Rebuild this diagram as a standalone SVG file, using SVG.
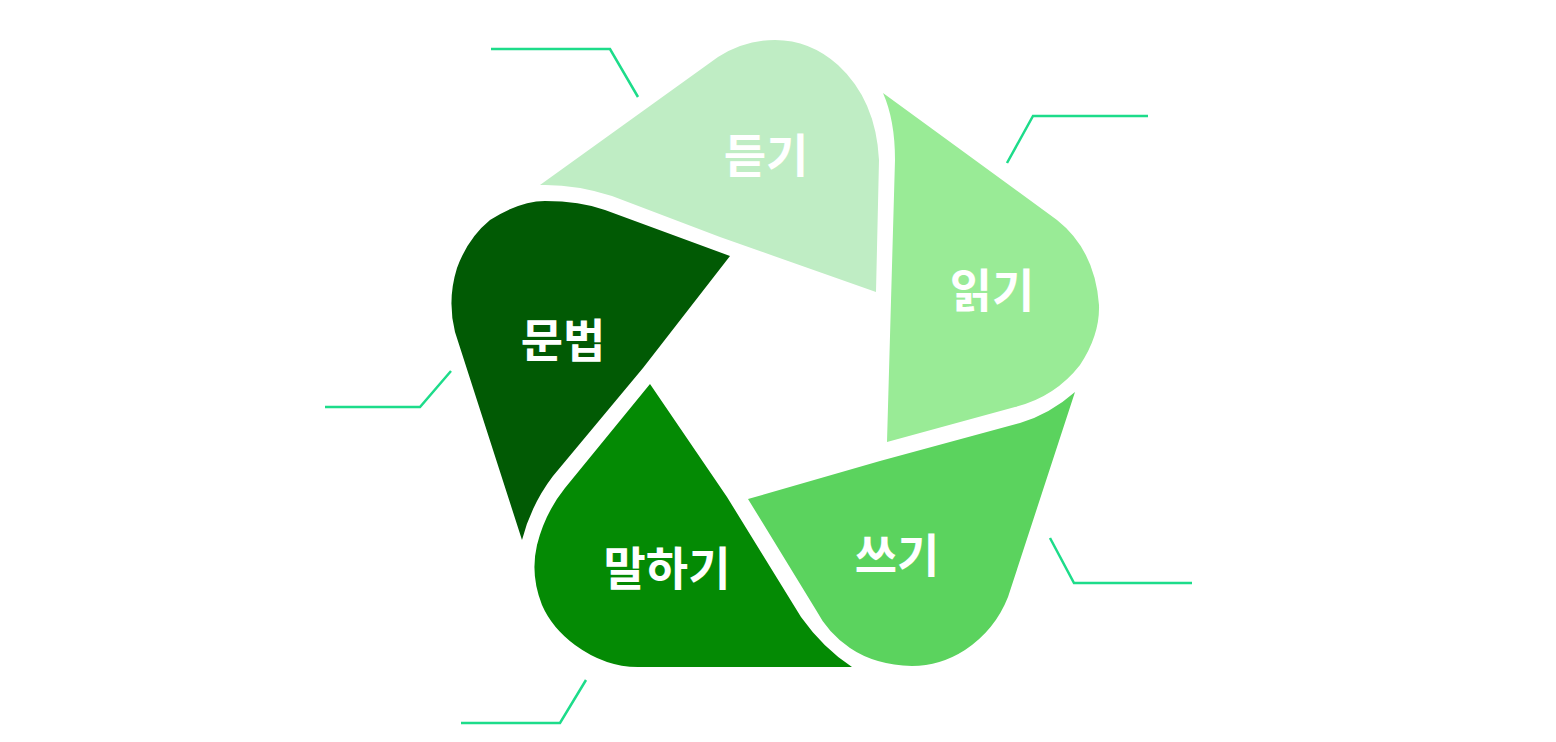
<svg xmlns="http://www.w3.org/2000/svg" width="1556" height="742" viewBox="0 0 1556 742">
<style>
.t{font-family:"Noto Sans CJK KR","Noto Sans",sans-serif;font-weight:bold;font-size:46px;fill:#fff;text-anchor:middle;dominant-baseline:central}
.l{fill:none;stroke:#1ddc8a;stroke-width:2.5}
</style>
<rect width="1556" height="742" fill="#fff"/>
<g id="n1"><path d="M540,185 L718,57 Q745,40 775,40 Q810,40 838,65 Q876,100 879,160 L876,292 L720,237 L612,196 Q575,184 540,185 Z" fill="#bfedc4"/><text class="t" x="766" y="152">듣기</text></g>
<g id="n2"><path d="M883,93 L1057,220 Q1095,250 1099,305 Q1100,335 1080,365 Q1055,397 1015,407 L887,442 L895,160 Q895,120 883,93 Z" fill="#99eb96"/><text class="t" x="992" y="287">읽기</text></g>
<g id="n3"><path d="M1075,392 L1008,597 Q995,630 965,650 Q940,666 912,666 Q875,665 850,648 Q828,633 816,610 L748,499 L880,461 L1020,423 Q1050,414 1075,392 Z" fill="#5bd35e"/><text class="t" x="897" y="552">쓰기</text></g>
<g id="n4"><path d="M650,384 L727,497 L801,617 Q823,648 852,667 L638,667 Q605,667 575,645 Q552,628 542,605 Q530,575 537,545 Q545,513 565,488 Z" fill="#048a04"/><text class="t" x="667" y="565">말하기</text></g>
<g id="n5"><path d="M522,540 L455,332 Q447,300 457,268 Q468,238 490,220 Q520,201 545,201 Q580,201 605,210 L730,256 L643,368 L553,476 Q531,505 522,540 Z" fill="#015a04"/><text class="t" x="563" y="337">문법</text></g>
<g id="connectors">
<polyline class="l" points="491,49 610,49 638,97"/>
<polyline class="l" points="1148,116 1033,116 1007,163"/>
<polyline class="l" points="325,407 420,407 451,371"/>
<polyline class="l" points="1192,583 1074,583 1050,538"/>
<polyline class="l" points="461,723 560,723 586,680"/>
</g>
</svg>
